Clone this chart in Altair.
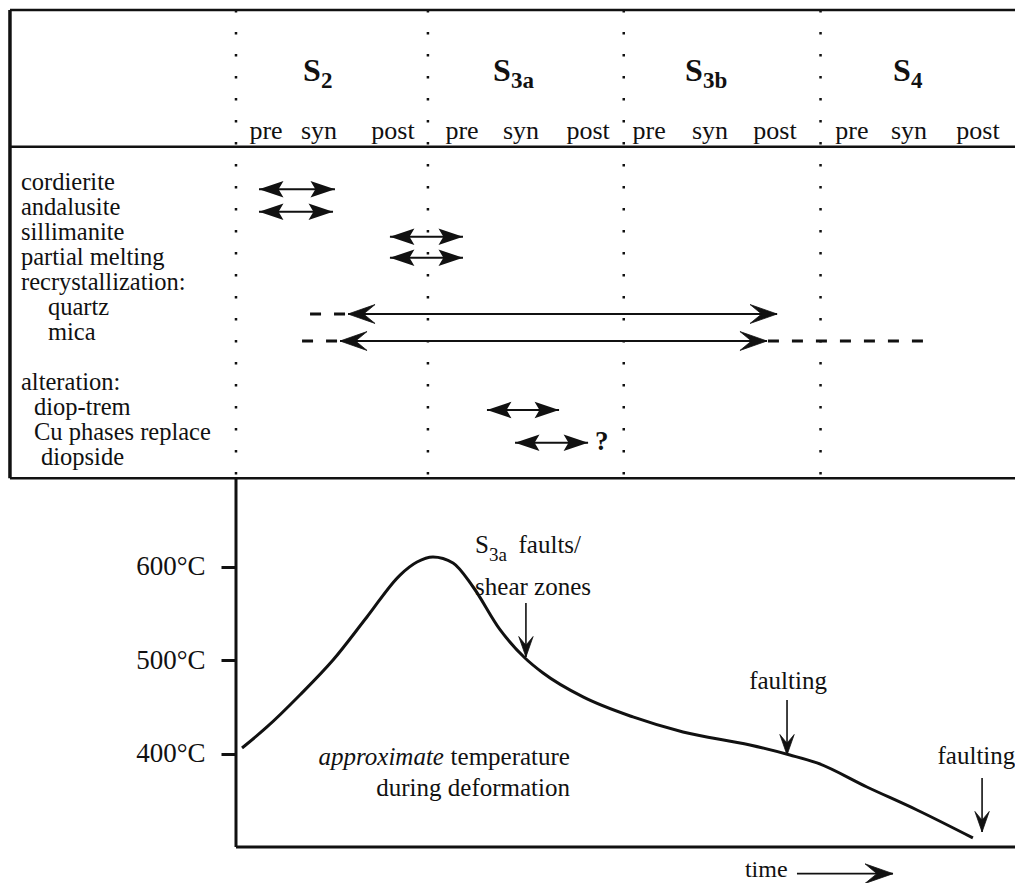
import altair as alt
import pandas as pd

SERIF = "Liberation Serif"
INK = "#111111"

# ---------------- upper table : stages / phases ----------------
stage_subs = ["2", "3a", "3b", "4"]
stage_start = [0.0, 0.985, 1.99, 3.0]          # dotted stage separators (time units)
stage_label_t = [0.344, 1.319, 2.304, 3.372]

phase_names = ["pre", "syn", "post"] * 4
phase_t = [0.154, 0.426, 0.806, 1.160, 1.463, 1.807,
           2.120, 2.433, 2.766, 3.161, 3.454, 3.808]

row_labels = ["cordierite", "andalusite", "sillimanite", "partial melting",
              "recrystallization:", "quartz", "mica",
              "alteration:", "diop-trem", "Cu phases replace", "diopside"]
row_index = [0, 1, 2, 3, 4, 5, 6, 8, 9, 10, 11]
row_indent = [0, 0, 0, 0, 0, 27, 27, 0, 13, 13, 20]

arrow_names = ["cordierite", "andalusite", "sillimanite", "partial melting",
               "quartz", "mica", "diop-trem", "Cu phases"]
arrow_row = [-0.03, 0.87, 1.87, 2.71, 4.96, 6.04, 8.8, 10.11]
arrow_start = [0.118, 0.118, 0.790, 0.790, 0.575, 0.534, 1.288, 1.432]
arrow_end = [0.508, 0.498, 1.165, 1.165, 2.777, 2.725, 1.658, 1.807]
arrow_style = ["bold", "bold", "bold", "bold", "thin", "thin", "bold", "bold"]

dash_row = [4.96, 6.04, 6.04]
dash_start = [0.380, 0.339, 2.730]
dash_end = [0.570, 0.530, 3.562]

query_t = [1.842]
query_row = [10.4]

# table frame (time units / row units)
hline_row = [-7.2, -1.73, 11.53]
frame_left_t = -1.16
frame_right_t = 4.0
frame_top_row = -7.2
frame_bottom_row = 11.53
stage_label_row = -4.36
phase_label_row = -2.04

# ---------------- lower panel : temperature path ----------------
curve_t = [0.031, 0.159, 0.328, 0.498, 0.672, 0.842, 0.929, 1.011, 1.114, 1.217,
           1.355, 1.483, 1.576, 1.781, 2.037, 2.294, 2.638, 2.843, 2.982, 3.238,
           3.495, 3.782]
curve_temp = [406.4, 428.9, 463.1, 500.5, 546.5, 591.4, 605.3, 610.7, 604.3, 578.6,
              533.0, 502.7, 486.6, 461.0, 439.6, 423.5, 409.6, 398.9, 390.4, 364.7,
              340.1, 310.2]
temp_ticks = [400, 500, 600]
panel_bottom_temp = 300.5
panel_top_temp = 695.2

fault_t = [1.488, 2.828, 3.829]
fault_from = [561.5, 457.8, 374.3]
fault_to = [503.7, 398.9, 316.6]
fault_label = ["faulting", "faulting"]
fault_label_t = [2.833, 3.80]
fault_label_temp = [469.5, 389.3]

time_arrow_t = [2.879, 3.372]
time_arrow_temp = 272.0
time_label_t = 2.612
time_label_temp = 268.4

# ---------------- scales ----------------
T_DOM = [-1.1701, 3.998]
R_DOM = [-7.28, 27.72]
K_DOM = [262.0, 1197.9]

HEAD_BOLD = "M0,0L-2,-0.68L-1.6,0L-2,0.68Z"
HEAD_THIN = "M0,0L-2,-0.7L-1.15,0L-2,0.7Z"


def X(f="t"):
    return alt.X(f"{f}:Q", scale=alt.Scale(domain=T_DOM, nice=False, zero=False), axis=None)


def YR(f="row"):
    return alt.Y(f"{f}:Q", scale=alt.Scale(domain=R_DOM, reverse=True, nice=False, zero=False),
                 axis=None)


def YK(f="temp", axis=None):
    return alt.Y(f"{f}:Q", scale=alt.Scale(domain=K_DOM, nice=False, zero=False), axis=axis)


layers = []

# table frame lines
hl = pd.DataFrame({"row": hline_row, "t": [frame_left_t] * 3, "t2": [frame_right_t] * 3})
layers.append(alt.Chart(hl).mark_rule(color=INK, strokeWidth=2.5).encode(
    x=X(), x2="t2", y=YR()))
vl = pd.DataFrame({"t": [frame_left_t], "row": [frame_top_row], "row2": [frame_bottom_row]})
layers.append(alt.Chart(vl).mark_rule(color=INK, strokeWidth=3.5).encode(
    x=X(), y=YR(), y2="row2"))

# dotted separators
ds = pd.DataFrame({"t": stage_start, "row": [frame_top_row] * 4, "row2": [frame_bottom_row] * 4})
layers.append(alt.Chart(ds).mark_rule(color=INK, strokeWidth=2.5, strokeDash=[2.5, 19.5]).encode(
    x=X(), y=YR(), y2="row2"))

# stage labels
st = pd.DataFrame({"t": stage_label_t, "row": [stage_label_row] * 4,
                   "s": ["S"] * 4, "sub": stage_subs})
layers.append(alt.Chart(st).mark_text(font=SERIF, fontSize=32, fontWeight="bold", color=INK,
                                      align="left", baseline="alphabetic").encode(
    x=X(), y=YR(), text="s:N"))
layers.append(alt.Chart(st).mark_text(font=SERIF, fontSize=23, fontWeight="bold", color=INK,
                                      align="left", baseline="alphabetic", dx=18, dy=7).encode(
    x=X(), y=YR(), text="sub:N"))

# phase labels
ph = pd.DataFrame({"t": phase_t, "row": [phase_label_row] * 12, "p": phase_names})
layers.append(alt.Chart(ph).mark_text(font=SERIF, fontSize=26, color=INK,
                                      align="center", baseline="alphabetic").encode(
    x=X(), y=YR(), text="p:N"))

# row labels
rl = pd.DataFrame({"row": row_index, "lab": row_labels, "indent": row_indent})
layers.append(alt.Chart(rl).mark_text(font=SERIF, fontSize=24.5, color=INK, dx=13,
                                      align="left", baseline="alphabetic").encode(
    x=alt.X("indent:Q", scale=None, axis=None), y=YR(), text="lab:N"))

# arrow shafts
ar = pd.DataFrame({"name": arrow_names, "row": arrow_row, "t": arrow_start,
                   "t2": arrow_end, "style": arrow_style})
layers.append(alt.Chart(ar).mark_rule(color=INK, strokeWidth=2.2).encode(
    x=X(), x2="t2", y=YR()))

# dashed extensions
dd = pd.DataFrame({"row": dash_row, "t": dash_start, "t2": dash_end})
layers.append(alt.Chart(dd).mark_rule(color=INK, strokeWidth=3, strokeDash=[11, 13]).encode(
    x=X(), x2="t2", y=YR()))

# arrow heads
n = len(arrow_names)
hd = pd.DataFrame({"t": arrow_start + arrow_end, "row": arrow_row * 2,
                   "ang": [180] * n + [0] * n, "style": arrow_style * 2})
layers.append(alt.Chart(hd).transform_filter("datum.style == 'bold'").mark_point(
    shape=HEAD_BOLD, size=600, filled=True, color=INK, opacity=1, strokeWidth=0).encode(
    x=X(), y=YR(), angle=alt.Angle("ang:Q", scale=None)))
layers.append(alt.Chart(hd).transform_filter("datum.style == 'thin'").mark_point(
    shape=HEAD_THIN, size=729, filled=True, color=INK, opacity=1, strokeWidth=0.8,
    stroke=INK).encode(
    x=X(), y=YR(), angle=alt.Angle("ang:Q", scale=None)))

# question mark
qm = pd.DataFrame({"t": query_t, "row": query_row, "q": ["?"]})
layers.append(alt.Chart(qm).mark_text(font=SERIF, fontSize=27, fontWeight="bold", color=INK,
                                      align="left", baseline="alphabetic").encode(
    x=X(), y=YR(), text="q:N"))

# ---------------- lower panel ----------------
cv = pd.DataFrame({"t": curve_t, "temp": curve_temp})
temp_axis = alt.Axis(values=temp_ticks, labelExpr="datum.value + '°C'", orient="left",
                     offset=-228, domain=False, grid=False, ticks=True, tickSize=15,
                     tickWidth=3, tickColor=INK, labelFont=SERIF, labelFontSize=27,
                     labelColor=INK, labelPadding=16, title=None)
layers.append(alt.Chart(cv).mark_line(color=INK, strokeWidth=3, interpolate="monotone").encode(
    x=X(), y=YK(axis=temp_axis)))

# panel axes lines
pl = pd.DataFrame({"t": [0.0], "temp": [panel_bottom_temp], "temp2": [panel_top_temp]})
layers.append(alt.Chart(pl).mark_rule(color=INK, strokeWidth=3).encode(
    x=X(), y=YK(), y2="temp2"))
pb = pd.DataFrame({"t": [0.0], "t2": [frame_right_t], "temp": [panel_bottom_temp]})
layers.append(alt.Chart(pb).mark_rule(color=INK, strokeWidth=3).encode(
    x=X(), x2="t2", y=YK()))

# fault arrows
fa = pd.DataFrame({"t": fault_t, "temp": fault_from, "temp2": fault_to})
layers.append(alt.Chart(fa).mark_rule(color=INK, strokeWidth=1.6).encode(
    x=X(), y=YK(), y2="temp2"))
fh = pd.DataFrame({"t": fault_t, "temp": fault_to})
layers.append(alt.Chart(fh).mark_point(shape=HEAD_THIN, size=420, filled=True, color=INK,
                                       opacity=1, angle=90, strokeWidth=0.8, stroke=INK).encode(
    x=X(), y=YK()))

fl = pd.DataFrame({"t": fault_label_t, "temp": fault_label_temp, "lab": fault_label})
layers.append(alt.Chart(fl).mark_text(font=SERIF, fontSize=25, color=INK, align="center",
                                      baseline="alphabetic").encode(
    x=X(), y=YK(), text="lab:N"))

# S3a faults / shear zones
sa = pd.DataFrame({"t": [1.227], "temp": [615.0], "s": ["S"], "sub": ["3a"]})
layers.append(alt.Chart(sa).mark_text(font=SERIF, fontSize=25, color=INK, align="left",
                                      baseline="alphabetic").encode(
    x=X(), y=YK(), text="s:N"))
layers.append(alt.Chart(sa).mark_text(font=SERIF, fontSize=19, color=INK, align="left",
                                      baseline="alphabetic", dx=14, dy=8).encode(
    x=X(), y=YK(), text="sub:N"))
sb = pd.DataFrame({"t": [1.450, 1.227], "temp": [615.0, 570.0],
                   "lab": ["faults/", "shear zones"]})
layers.append(alt.Chart(sb).mark_text(font=SERIF, fontSize=25, color=INK, align="left",
                                      baseline="alphabetic").encode(
    x=X(), y=YK(), text="lab:N"))

# approximate temperature during deformation
ap1 = pd.DataFrame({"t": [1.714], "temp": [388.2], "lab": ["approximate"]})
layers.append(alt.Chart(ap1).mark_text(font=SERIF, fontSize=25, fontStyle="italic", color=INK,
                                       align="right", baseline="alphabetic", dx=-126).encode(
    x=X(), y=YK(), text="lab:N"))
ap2 = pd.DataFrame({"t": [1.714, 1.714], "temp": [388.2, 355.0],
                    "lab": ["temperature", "during deformation"]})
layers.append(alt.Chart(ap2).mark_text(font=SERIF, fontSize=25, color=INK,
                                       align="right", baseline="alphabetic").encode(
    x=X(), y=YK(), text="lab:N"))

# time arrow
ta = pd.DataFrame({"t": [time_arrow_t[0]], "t2": [time_arrow_t[1]], "temp": [time_arrow_temp]})
layers.append(alt.Chart(ta).mark_rule(color=INK, strokeWidth=1.6).encode(
    x=X(), x2="t2", y=YK()))
th = pd.DataFrame({"t": [time_arrow_t[1]], "temp": [time_arrow_temp]})
layers.append(alt.Chart(th).mark_point(shape=HEAD_THIN, size=784, filled=True, color=INK,
                                       opacity=1, strokeWidth=0.8, stroke=INK).encode(
    x=X(), y=YK()))
tl = pd.DataFrame({"t": [time_label_t], "temp": [time_label_temp], "lab": ["time"]})
layers.append(alt.Chart(tl).mark_text(font=SERIF, fontSize=24, color=INK, align="left",
                                      baseline="alphabetic").encode(
    x=X(), y=YK(), text="lab:N"))

chart = alt.layer(*layers).resolve_scale(y="independent").properties(
    width=1007, height=875, padding=0, background="white",
    autosize=alt.AutoSizeParams(type="none"),
).configure_view(stroke=None)

chart.save("out.html", embed_options={"renderer": "svg", "actions": False})
